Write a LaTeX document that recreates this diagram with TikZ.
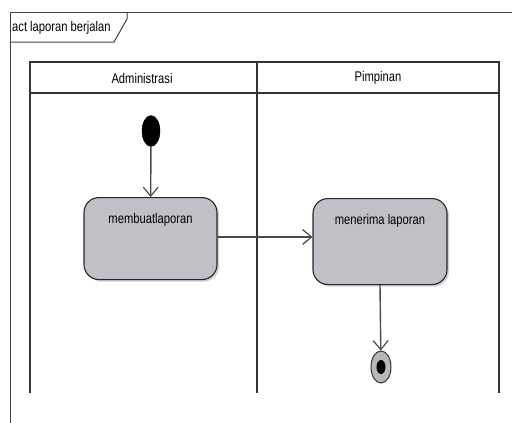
\documentclass[tikz,border=0pt]{standalone}
\usepackage{fontspec}
\setmainfont{Liberation Sans}[FakeStretch=0.8]
\usetikzlibrary{shapes.geometric,arrows.meta,shadows}
\definecolor{actfill}{HTML}{C2C0C6}
\definecolor{lanecol}{HTML}{333333}
\definecolor{flowcol}{HTML}{4A4A4A}
\tikzset{
  lane/.style={draw=lanecol,line width=1.8pt},
  frameline/.style={draw=black!75,line width=1pt},
  action/.style={draw=black!85,line width=1.1pt,fill=actfill,rounded corners=15pt,
    minimum width=133pt,inner xsep=0pt,inner ysep=4pt,text height=22pt,text depth=52pt,
    font=\fontsize{14}{15}\selectfont,
    drop shadow={shadow xshift=2pt,shadow yshift=-2pt,fill=black!30,opacity=0.6}},
  flow/.style={draw=flowcol,line width=1.4pt,-{Straight Barb[length=9pt,width=15pt,line width=1.2pt]}},
  lbl/.style={font=\fontsize{14}{15}\selectfont,inner sep=0pt}
}
\begin{document}
\begin{tikzpicture}[x=1pt,y=-1pt]
\useasboundingbox (0,0) rectangle (512,423);
% frame
\draw[frameline] (10,423) -- (10,12) -- (512,12);
\draw[frameline] (10,42) -- (114,42) -- (127,19) -- (127,12);
\node[lbl,anchor=west] (title) at (12,28) {act laporan berjalan};
% swimlanes
\draw[lane] (30,393) -- (30,62) -- (499,62) -- (499,393);
\draw[lane] (257,62) -- (257,393);
\draw[lane] (30,93) -- (499,93);
\node[lbl] (laneA) at (142,78) {Administrasi};
\node[lbl] (laneB) at (378,78) {Pimpinan};
% nodes
\node[ellipse,fill=black,draw=black,minimum width=18pt,minimum height=31pt,inner sep=0pt] (start) at (151,131) {};
\node[action,anchor=north,minimum width=133pt] (a1) at (150.5,197) {membuatlaporan};
\node[action,anchor=north,minimum width=134pt,text depth=56pt] (a2) at (380,198) {menerima laporan};
\node[ellipse,draw=black!80,line width=1pt,fill=black!28,minimum width=20pt,minimum height=32pt,inner sep=0pt] (end) at (381,367) {};
\node[ellipse,fill=black,minimum width=9pt,minimum height=14pt,inner sep=0pt] (endin) at (end.center) {};
% flows
\draw[flow] (start) -- (a1);
\draw[flow] (a1.east |- 0,237) -- (a2.west |- 0,237);
\draw[flow] (a2.south -| 380,0) -- (end);
\end{tikzpicture}
\end{document}
